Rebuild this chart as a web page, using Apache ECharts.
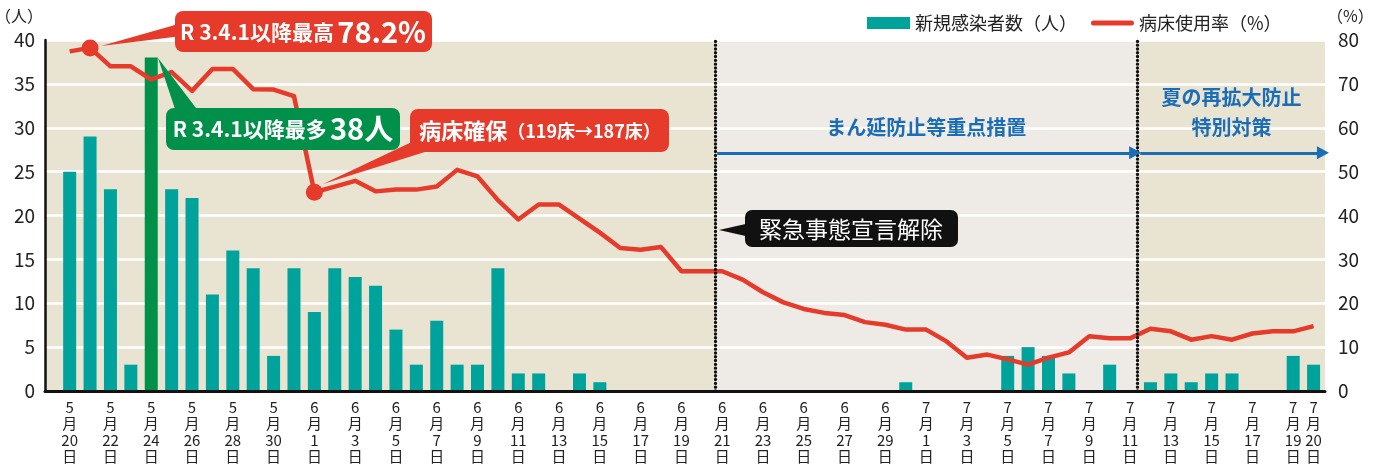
<!DOCTYPE html>
<html>
<head>
<meta charset="utf-8">
<script src="https://cdn.jsdelivr.net/npm/echarts@6.0.0/dist/echarts.min.js"></script>
<style>
  html, body { margin: 0; padding: 0; background: #fff; }
  #chart { width: 1373px; height: 470px; }
</style>
</head>
<body>
<div id="chart"></div>
<script>
// 5/20 - 7/20
const dates = [
  "5/20","5/21","5/22","5/23","5/24","5/25","5/26","5/27","5/28","5/29","5/30","5/31",
  "6/1","6/2","6/3","6/4","6/5","6/6","6/7","6/8","6/9","6/10","6/11","6/12","6/13","6/14","6/15",
  "6/16","6/17","6/18","6/19","6/20","6/21","6/22","6/23","6/24","6/25","6/26","6/27","6/28","6/29","6/30",
  "7/1","7/2","7/3","7/4","7/5","7/6","7/7","7/8","7/9","7/10","7/11","7/12","7/13","7/14","7/15",
  "7/16","7/17","7/18","7/19","7/20"
];
// 新規感染者数（人）
const cases = [
  25, 29, 23, 3, 38, 23, 22, 11, 16, 14, 4, 14,
  9, 14, 13, 12, 7, 3, 8, 3, 3, 14, 2, 2, 0, 2, 1,
  0, 0, 0, 0, 0, 0, 0, 0, 0, 0, 0, 0, 0, 0, 1,
  0, 0, 0, 0, 4, 5, 4, 2, 0, 3, 0, 1, 2, 1, 2,
  2, 0, 0, 4, 3
];
// 病床使用率（%）
const rate = [
  77.4, 78.2, 74.0, 74.0, 71.0, 72.7, 68.4, 73.4, 73.4, 68.8, 68.7, 67.2,
  45.3, 46.6, 47.9, 45.5, 45.9, 45.9, 46.6, 50.4, 48.9, 43.5, 39.1, 42.5, 42.5, 39.3, 36.1,
  32.6, 32.2, 32.8, 27.3, 27.3, 27.3, 25.4, 22.5, 20.2, 18.7, 17.8, 17.3, 15.7, 15.1, 14.0,
  14.0, 11.3, 7.6, 8.3, 7.2, 6.0, 7.6, 8.8, 12.5, 12.0, 12.0, 14.2, 13.6, 11.7, 12.5,
  11.7, 13.1, 13.6, 13.6, 14.8
];
const labelDays = [0,2,4,6,8,10,12,14,16,18,20,22,24,26,28,30,32,34,36,38,40,42,44,46,48,50,52,54,56,58,60,61];
const peakBar = 4;          // 5/24 38人
const markerDays = [1, 12]; // 78.2%, 病床確保
const measure1 = [31.65, 52.35]; // まん延防止等重点措置
const measure2 = [52.35, 61.56]; // 夏の再拡大防止特別対策

const FONT = "'Noto Sans CJK JP', 'Noto Sans', sans-serif";
const RED = "#e63a2b";
const TEAL = "#00a39b";
const GREEN = "#00904a";
const BLUE = "#1b6db5";

let myChart = echarts.init(document.getElementById("chart"));

let option = {
  animation: false,
  textStyle: { fontFamily: FONT },
  grid: {
    left: 45,
    right: 48,
    top: 40,
    bottom: 79,
    outerBoundsMode: "none",
    containLabel: false,
    show: true,
    backgroundColor: "#e9e3d2",
    borderWidth: 0
  },
  legend: {
    left: 862,
    top: 9,
    itemWidth: 43,
    itemHeight: 12,
    itemGap: 14,
    textStyle: { fontSize: 18, color: "#222", fontFamily: FONT },
    data: [
      { name: "新規感染者数（人）", icon: "rect" },
      {
        name: "病床使用率（%）",
        icon: "path://M2.5,0 H40.5 A2.5,2.5 0 0 1 40.5,5 H2.5 A2.5,2.5 0 0 1 2.5,0 Z"
      }
    ]
  },
  xAxis: {
    type: "value",
    min: -1.21,
    max: 61.56,
    z: 3,
    splitLine: { show: false },
    axisTick: { show: false },
    axisLine: { onZero: false, lineStyle: { color: "#111", width: 3 } },
    axisLabel: {
      customValues: labelDays,
      margin: 8,
      fontSize: 15,
      lineHeight: 16.5,
      color: "#222",
      formatter: function (v) {
        let p = dates[Math.round(v)].split("/");
        return p[0] + "\n月\n" + p[1] + "\n日";
      }
    }
  },
  yAxis: [
    {
      type: "value",
      position: "left",
      min: 0,
      max: 40,
      interval: 5,
      z: 1.5,
      name: "（人）",
      nameLocation: "end",
      nameGap: 16,
      nameTextStyle: { fontSize: 16, color: "#222", align: "right", padding: [0, 2, 0, 0] },
      axisLine: { show: true, onZero: false, lineStyle: { color: "#111", width: 2.5 } },
      axisTick: { show: false },
      axisLabel: { fontSize: 19, color: "#222", margin: 10 },
      splitLine: { lineStyle: { color: "#ffffff", width: 2.5 } }
    },
    {
      type: "value",
      position: "right",
      min: 0,
      max: 80,
      interval: 10,
      name: "（%）",
      nameLocation: "end",
      nameGap: 16,
      nameTextStyle: { fontSize: 16, color: "#222", align: "left", padding: [0, 0, 0, 2] },
      axisLine: { show: false, onZero: false },
      axisTick: { show: false },
      axisLabel: { fontSize: 19, color: "#222", margin: 13 },
      splitLine: { show: false }
    }
  ],
  series: [
    {
      name: "新規感染者数（人）",
      type: "bar",
      barWidth: 13,
      itemStyle: { color: TEAL },
      data: cases.map((v, i) =>
        i === peakBar ? { value: [i, v], itemStyle: { color: GREEN } } : [i, v]
      ),
      markArea: {
        silent: true,
        itemStyle: { color: "#eeebe6" },
        data: [[{ xAxis: measure1[0] }, { xAxis: measure1[1] }]]
      },
      markLine: {
        silent: true,
        symbol: "none",
        label: { show: false },
        lineStyle: { color: "#111", width: 3.3, type: [0.1, 3.7], cap: "round" },
        data: [{ xAxis: measure1[0] }, { xAxis: measure1[1] }]
      }
    },
    {
      name: "病床使用率（%）",
      type: "line",
      yAxisIndex: 1,
      symbol: "none",
      lineStyle: { color: RED, width: 4.5, join: "round" },
      itemStyle: { color: RED },
      data: rate.map((v, i) => [i, v]),
      markPoint: {
        symbol: "circle",
        symbolSize: 17,
        itemStyle: { color: RED },
        label: { show: false },
        data: markerDays.map(i => ({ coord: [i, rate[i]] }))
      },
      markLine: {
        silent: true,
        symbol: ["none", "triangle"],
        symbolSize: [13, 12],
        lineStyle: { color: BLUE, width: 3, type: "solid" },
        label: {
          show: true,
          position: "middle",
          color: BLUE,
          fontSize: 20,
          fontWeight: "bold",
          lineHeight: 30,
          distance: 10
        },
        data: [
          [
            { coord: [measure1[0] + 0.1, 54.3], name: "まん延防止等重点措置" },
            { coord: [measure1[1] - 0.1, 54.3] }
          ],
          [
            { coord: [measure2[0] + 0.15, 54.3], name: "夏の再拡大防止\n特別対策" },
            { coord: [measure2[1] - 0.1, 54.3] }
          ]
        ]
      }
    }
  ],
  graphic: [
    // R 3.4.1以降最高
    { type: "polygon", z: 100, shape: { points: [[101, 46], [182, 23], [182, 36]] }, style: { fill: RED } },
    { type: "rect", z: 100, shape: { x: 175, y: 11, width: 257, height: 41, r: 8 }, style: { fill: RED } },
    {
      type: "text", z: 101, x: 303, y: 32,
      style: {
        text: "{a|R 3.4.1以降最高} {b|78.2%}",
        align: "center", verticalAlign: "middle", fill: "#fff",
        rich: {
          a: { fontSize: 21, fontWeight: "bold", fill: "#fff", fontFamily: FONT, verticalAlign: "middle" },
          b: { fontSize: 29, fontWeight: "bold", fill: "#fff", fontFamily: FONT, verticalAlign: "middle" }
        }
      }
    },
    // R 3.4.1以降最多
    { type: "polygon", z: 100, shape: { points: [[158, 58], [176, 112], [199, 112]] }, style: { fill: GREEN } },
    { type: "rect", z: 100, shape: { x: 166, y: 108, width: 234, height: 42, r: 8 }, style: { fill: GREEN } },
    {
      type: "text", z: 101, x: 283, y: 129,
      style: {
        text: "{a|R 3.4.1以降最多} {b|38人}",
        align: "center", verticalAlign: "middle", fill: "#fff",
        rich: {
          a: { fontSize: 21, fontWeight: "bold", fill: "#fff", fontFamily: FONT, verticalAlign: "middle" },
          b: { fontSize: 29, fontWeight: "bold", fill: "#fff", fontFamily: FONT, verticalAlign: "middle" }
        }
      }
    },
    // 病床確保
    { type: "polygon", z: 100, shape: { points: [[323, 184], [416, 140], [428, 151]] }, style: { fill: RED } },
    { type: "rect", z: 100, shape: { x: 410, y: 109, width: 259, height: 43, r: 8 }, style: { fill: RED } },
    {
      type: "text", z: 101, x: 540, y: 131,
      style: {
        text: "{a|病床確保}{b|（119床→187床）}",
        align: "center", verticalAlign: "middle", fill: "#fff",
        rich: {
          a: { fontSize: 22, fontWeight: "bold", fill: "#fff", fontFamily: FONT, verticalAlign: "middle" },
          b: { fontSize: 18, fontWeight: "bold", fill: "#fff", fontFamily: FONT, verticalAlign: "middle" }
        }
      }
    },
    // 緊急事態宣言解除
    { type: "polygon", z: 100, shape: { points: [[719, 230], [750, 223], [750, 237]] }, style: { fill: "#111" } },
    { type: "rect", z: 100, shape: { x: 745, y: 210, width: 213, height: 37, r: 7 }, style: { fill: "#111" } },
    {
      type: "text", z: 101, x: 851, y: 229,
      style: {
        text: "緊急事態宣言解除",
        align: "center", verticalAlign: "middle", fill: "#fff",
        fontSize: 23, fontFamily: FONT
      }
    }
  ]
};

myChart.setOption(option);
</script>
</body>
</html>
